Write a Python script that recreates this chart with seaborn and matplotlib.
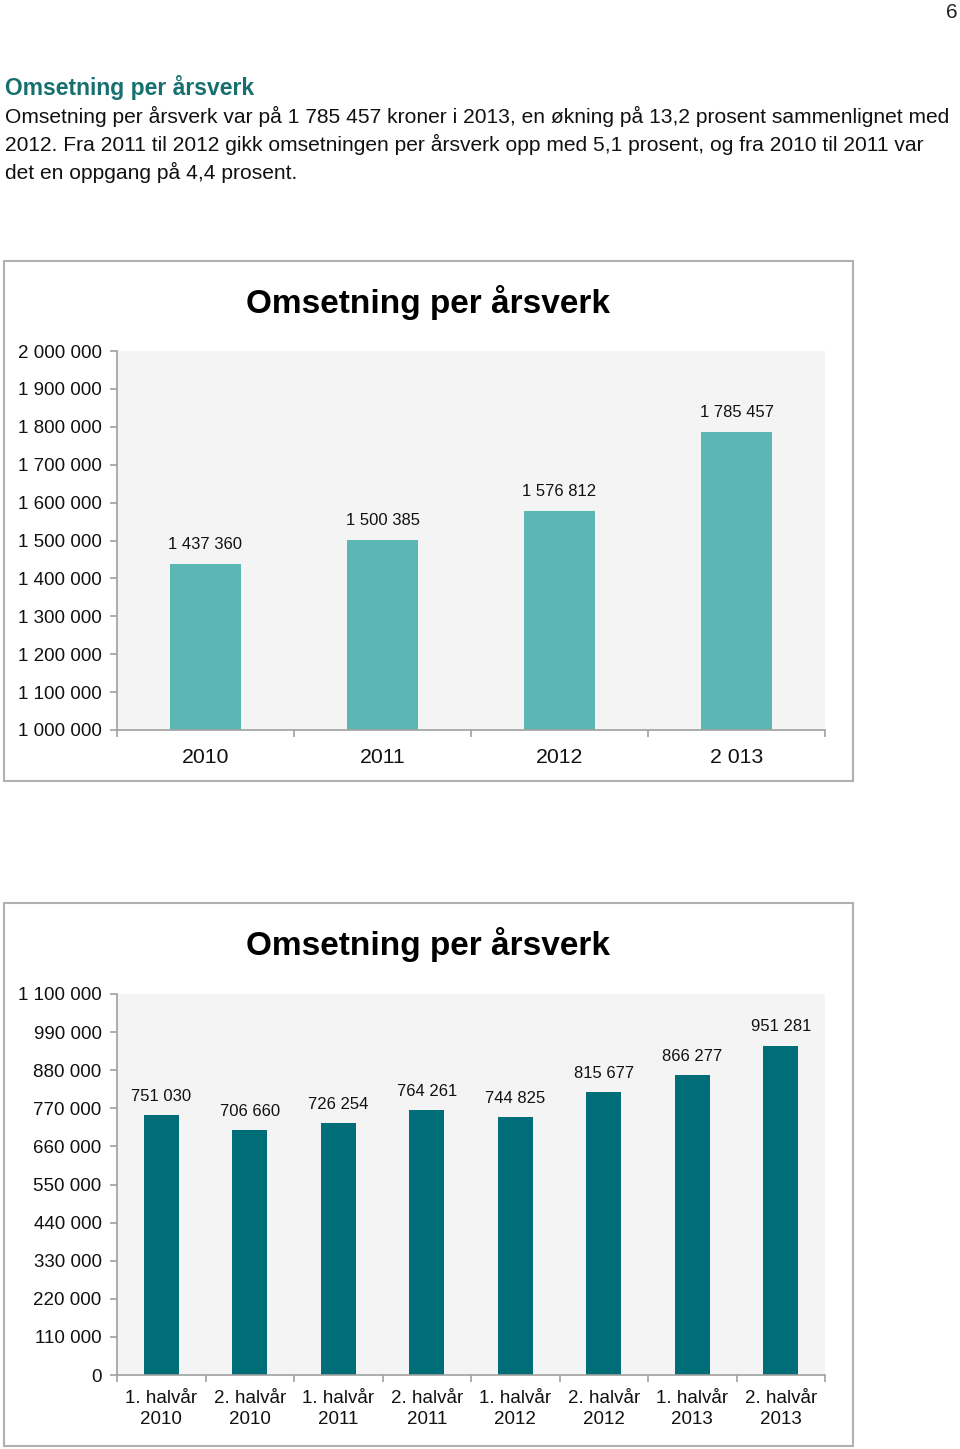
import matplotlib
matplotlib.use("Agg")
import matplotlib.pyplot as plt
import seaborn as sns
from matplotlib.patches import Rectangle
from matplotlib.ticker import FuncFormatter, FixedLocator

# data
years = ["2010", "2011", "2012", "2 013"]
year_values = [1437360, 1500385, 1576812, 1785457]

halves = ["1. halvår\n2010", "2. halvår\n2010", "1. halvår\n2011", "2. halvår\n2011",
          "1. halvår\n2012", "2. halvår\n2012", "1. halvår\n2013", "2. halvår\n2013"]
half_values = [751030, 706660, 726254, 764261, 744825, 815677, 866277, 951281]

sns.set_theme(style="white")
plt.rcParams["font.family"] = ["Liberation Sans", "DejaVu Sans"]

def spaced(v, pos=None):
    return f"{int(round(v)):,}".replace(",", " ")

fig = plt.figure(figsize=(9.6, 14.49), dpi=100)

# page text
fig.text(0.998, 1 - 12 / 1449, "6", ha="right", va="center", fontsize=15, color="#222222")
fig.text(0.005, 1 - 87 / 1449, "Omsetning per årsverk", ha="left", va="center",
         fontsize=16.5, fontweight="bold", color="#16706f")
body = ["Omsetning per årsverk var på 1 785 457 kroner i 2013, en økning på 13,2 prosent sammenlignet med",
        "2012. Fra 2011 til 2012 gikk omsetningen per årsverk opp med 5,1 prosent, og fra 2010 til 2011 var",
        "det en oppgang på 4,4 prosent."]
for i, line in enumerate(body):
    fig.text(0.005, 1 - (116 + 28 * i) / 1449, line, ha="left", va="center",
             fontsize=15.1, color="#111111")

# chart frames
for y0, h in [(1 - 781 / 1449, 520 / 1449), (1 - 1446 / 1449, 543 / 1449)]:
    fig.patches.append(Rectangle((4 / 960, y0), 849 / 960, h, transform=fig.transFigure,
                                 fill=False, edgecolor="#b0b0b0", linewidth=1.5))

def style_axis(ax, n, ylim, step, title, title_y):
    ax.set_facecolor("#f4f4f4")
    ax.set_ylim(*ylim)
    ax.set_xlim(-0.5, n - 0.5)
    ax.yaxis.set_major_locator(FixedLocator(list(range(ylim[0], ylim[1] + 1, step))))
    ax.yaxis.set_major_formatter(FuncFormatter(spaced))
    ax.set_xlabel("")
    ax.set_ylabel("")
    for s in ["top", "right"]:
        ax.spines[s].set_visible(False)
    for s in ["left", "bottom"]:
        ax.spines[s].set_color("#a0a0a0")
        ax.spines[s].set_linewidth(1.2)
    ax.tick_params(axis="y", left=True, length=5, width=1.2, color="#a0a0a0",
                   pad=6, labelsize=13.5, labelcolor="#111111", direction="out")
    ax.xaxis.set_minor_locator(FixedLocator([i - 0.5 for i in range(n + 1)]))
    ax.tick_params(axis="x", which="minor", bottom=True, length=5, width=1.2,
                   color="#a0a0a0", direction="out")
    ax.tick_params(axis="x", which="major", bottom=False, length=0)
    fig.text(0.446, 1 - title_y / 1449, title, ha="center", va="center",
             fontsize=24, fontweight="bold", color="#000000")

# chart 1
ax1 = fig.add_axes([117 / 960, 1 - 730 / 1449, 708 / 960, 379 / 1449])
sns.barplot(x=years, y=year_values, ax=ax1, color="#5ab7b3", width=0.4,
            saturation=1, edgecolor="none")
style_axis(ax1, 4, (1000000, 2000000), 100000, "Omsetning per årsverk", 302)
ax1.tick_params(axis="x", labelsize=15.3, pad=13, labelcolor="#111111")
for i, v in enumerate(year_values):
    ax1.annotate(spaced(v), (i, v), xytext=(0, 9), textcoords="offset points",
                 ha="center", va="bottom", fontsize=12, color="#111111")

# chart 2
ax2 = fig.add_axes([117 / 960, 1 - 1375 / 1449, 708 / 960, 381 / 1449])
sns.barplot(x=halves, y=half_values, ax=ax2, color="#006e78", width=0.4,
            saturation=1, edgecolor="none")
style_axis(ax2, 8, (0, 1100000), 110000, "Omsetning per årsverk", 944)
ax2.tick_params(axis="x", labelsize=13.5, pad=11, labelcolor="#111111")
for lbl in ax2.get_xticklabels():
    lbl.set_linespacing(1.3)
for i, v in enumerate(half_values):
    ax2.annotate(spaced(v), (i, v), xytext=(0, 8), textcoords="offset points",
                 ha="center", va="bottom", fontsize=12, color="#111111")

fig.savefig("out.png", dpi=100)
